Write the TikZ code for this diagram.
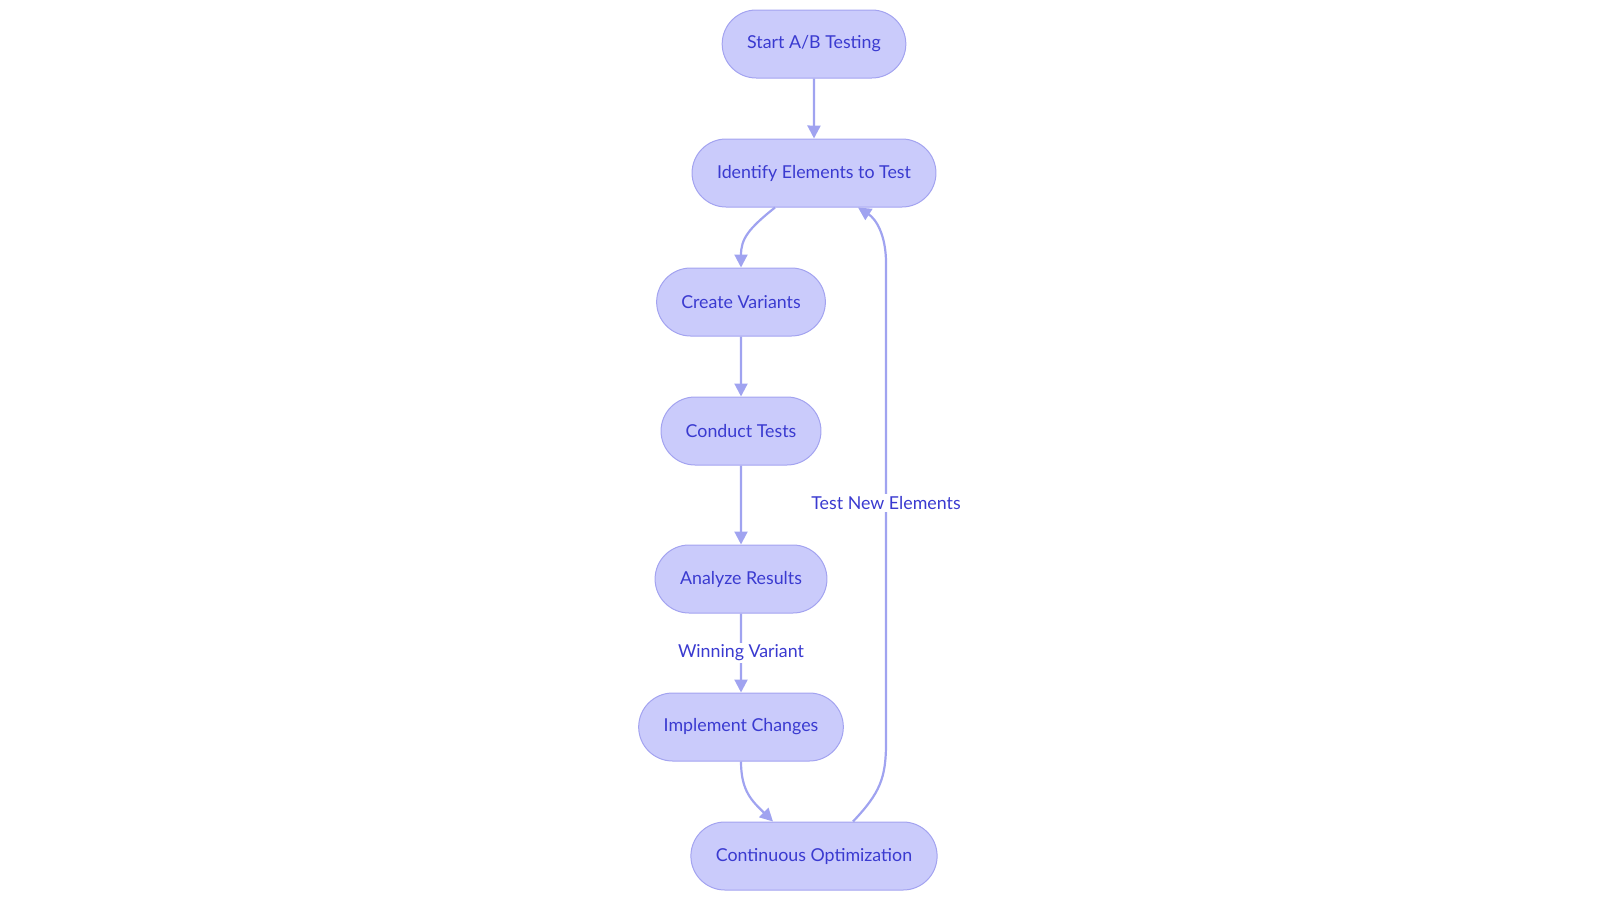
\documentclass[tikz,border=0pt]{standalone}
\usepackage{fontspec}
\setmainfont{Lato}
\usepackage{xcolor}
\usetikzlibrary{arrows.meta}
\usetikzlibrary{positioning}
\usetikzlibrary{shapes.misc}

\definecolor{stagefill}{RGB}{202,203,251}
\definecolor{stageline}{RGB}{163,163,240}
\definecolor{stagetext}{RGB}{58,58,208}
\definecolor{flowline}{RGB}{160,163,240}

\begin{document}
\begin{tikzpicture}[x=1pt, y=-1pt, ->, >={Triangle[length=13pt, width=13pt]}, node distance=60pt, line width=2.2pt, draw=flowline]
    \tikzstyle{every node}=[font=\fontsize{17.8}{22}\selectfont, text=stagetext]
    \tikzstyle{stage}=[rounded rectangle, draw=stageline, line width=1pt, fill=stagefill, minimum height=68pt, inner xsep=24pt]
    \tikzstyle{edgelabel}=[fill=white, inner sep=2pt]

    \useasboundingbox (0,0) rectangle (1600,903);

    \node[stage] (start) at (814,44) {Start A/B Testing};
    \node[stage] (identify) [below=of start] {Identify Elements to Test};
    \node[stage] (create) [below=of identify, xshift=-73pt] {Create Variants};
    \node[stage] (conduct) [below=of create] {Conduct Tests};
    \node[stage] (analyze) [below=79pt of conduct] {Analyze Results};
    \node[stage] (implement) [below=79pt of analyze] {Implement Changes};
    \node[stage] (continuous) [below=of implement, xshift=73pt] {Continuous Optimization};

    \draw (start) -- (identify);
    \draw ([xshift=-39pt]identify.south) .. controls (748,229) and (741,239) .. (create.north);
    \draw (create) -- (conduct);
    \draw (conduct) -- (analyze);
    \draw (analyze) -- node[edgelabel] {Winning Variant} (implement);
    \draw (implement.south) .. controls (741,791) and (752,801) .. ([xshift=-41pt]continuous.north);
    \draw ([xshift=39pt]continuous.north) .. controls (880,793) and (886,778) .. (886,743)
        -- node[edgelabel] {Test New Elements} (886,263)
        .. controls (886,235) and (876,219) .. ([xshift=44pt]identify.south);
\end{tikzpicture}
\end{document}
